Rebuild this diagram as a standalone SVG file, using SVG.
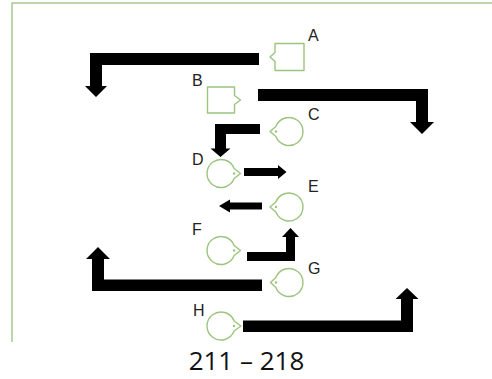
<svg xmlns="http://www.w3.org/2000/svg" width="492" height="379" viewBox="0 0 492 379">
<style>
.frame{fill:none;stroke:#a8c88e;stroke-width:1.5}
.shape{fill:#fff;stroke:#9cc47e;stroke-width:1.4;stroke-linejoin:round}
.dot{fill:#9cc47e}
.lbl{font-family:"Liberation Sans",Arial,sans-serif;font-size:16px;fill:#222}
.cap{font-family:"Open Sans","Liberation Sans",sans-serif;font-size:26px;fill:#111;text-anchor:middle}
.arr{fill:#000}
</style>
<rect x="0" y="0" width="492" height="379" fill="#fff"/>
<path class="frame" d="M12,342 V3 H492"/>

<g id="connectors">
  <polygon class="arr" points="259,53 90,53 90,86 85,86 96,97 107,86 102,86 102,65 259,65"/>
  <polygon class="arr" points="258,89 428,89 428,122 434,122 422,134 410,122 416,122 416,101 258,101"/>
  <polygon class="arr" points="260,124 215,124 215,148.5 210.5,148.5 220.5,157 230.5,148.5 226,148.5 226,134 260,134"/>
  <polygon class="arr" points="244,168 278,168 278,165 286.5,172 278,179 278,176 244,176"/>
  <polygon class="arr" points="262,202.5 230,202.5 230,199.5 219,206 230,212.5 230,209.5 262,209.5"/>
  <polygon class="arr" points="247,252 286,252 286,237 282,237 290.5,228 299,237 295,237 295,261 247,261"/>
  <polygon class="arr" points="262,279.5 104,279.5 104,259 110,259 98,247 86,259 92,259 92,291 262,291"/>
  <polygon class="arr" points="243,320.5 401,320.5 401,299 395.5,299 407,288 418.5,299 413,299 413,332 243,332"/>
</g>

<g id="A">
  <path class="shape" d="M275,43.5 H304 V70.5 H275 V61.5 L270,57 L275,52.5 Z"/>
  <text class="lbl" x="308" y="41">A</text>
</g>
<g id="B">
  <path class="shape" d="M207.5,87 H234.5 V95.5 L240.5,100 L234.5,104.5 V113 H207.5 Z"/>
  <text class="lbl" x="192" y="86">B</text>
</g>
<g id="C">
  <path class="shape" d="M275.9,126.5 A14,14 0 1 1 275.9,136.5 L270,131.5 Z"/>
  <circle class="dot" cx="276" cy="131.5" r="1.2"/>
  <text class="lbl" x="308" y="120">C</text>
</g>
<g id="D">
  <path class="shape" d="M234.1,168.5 A14,14 0 1 0 234.1,178.5 L240.5,173.5 Z"/>
  <circle class="dot" cx="234" cy="173.5" r="1.2"/>
  <text class="lbl" x="192" y="165">D</text>
</g>
<g id="E">
  <path class="shape" d="M275.9,202 A14,14 0 1 1 275.9,212 L270,207 Z"/>
  <circle class="dot" cx="276" cy="207" r="1.2"/>
  <text class="lbl" x="308" y="192">E</text>
</g>
<g id="F">
  <path class="shape" d="M234.1,245.5 A14,14 0 1 0 234.1,255.5 L240.5,250.5 Z"/>
  <circle class="dot" cx="234" cy="250.5" r="1.2"/>
  <text class="lbl" x="192" y="235">F</text>
</g>
<g id="G">
  <path class="shape" d="M275.9,277.5 A14,14 0 1 1 275.9,287.5 L270.5,282.5 Z"/>
  <circle class="dot" cx="276" cy="282.5" r="1.2"/>
  <text class="lbl" x="308" y="274">G</text>
</g>
<g id="H">
  <path class="shape" d="M234.1,321 A14,14 0 1 0 234.1,331 L241,326 Z"/>
  <circle class="dot" cx="234" cy="326" r="1.2"/>
  <text class="lbl" x="193" y="316">H</text>
</g>

<text class="cap" x="246.5" y="370">211 – 218</text>
</svg>
